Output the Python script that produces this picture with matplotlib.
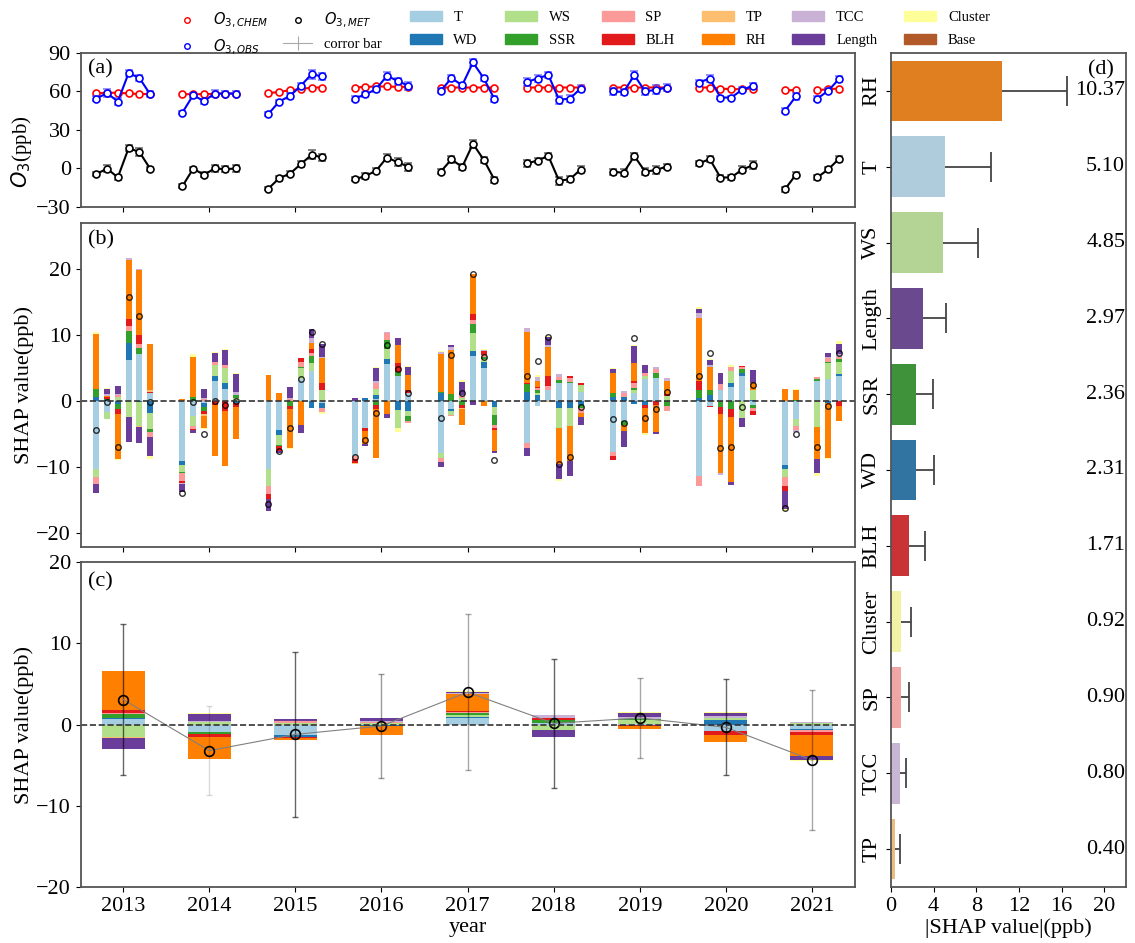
import numpy as np
import matplotlib
matplotlib.use("Agg")
import matplotlib.pyplot as plt
import seaborn as sns
from matplotlib.patches import Patch
from matplotlib.lines import Line2D

plt.rcParams['font.family'] = ['Liberation Serif', 'DejaVu Serif']
plt.rcParams['font.size'] = 16
plt.rcParams['axes.edgecolor'] = '#555555'
plt.rcParams['axes.linewidth'] = 1.3

# ---------------- data ----------------
years = [2013, 2014, 2015, 2016, 2017, 2018, 2019, 2020, 2021]
# months with data in each year (2021 misses one month)
bar_year = [2013]*6 + [2014]*6 + [2015]*6 + [2016]*6 + [2017]*6 + [2018]*6 + [2019]*6 + [2020]*6 + [2021]*5
bar_month = [5, 6, 7, 8, 9, 10]*8 + [5, 6, 8, 9, 10]

o3_chem = [58.5, 59, 59, 58.5, 58, 58,
           57.9, 57.9, 57.9, 58.2, 58.4, 58.4,
           58.7, 59.7, 61, 61.8, 63.1, 63.1,
           63.1, 63.6, 63.9, 63.9, 63.6, 63.6,
           63.1, 63.1, 63.1, 63.1, 63.1, 63.1,
           63.1, 63.1, 63.1, 63.1, 63.1, 63.1,
           63.1, 63.1, 63.1, 63.1, 63.1, 63.1,
           63.1, 63.1, 62.3, 61.8, 61.8, 62.3,
           61, 61, 61, 61.8, 62.3]
o3_obs = [54.5, 58.7, 52.2, 74.3, 70.6, 57.9,
          43.6, 57.1, 52.5, 58.4, 58.4, 58.4,
          42.6, 52.2, 56.6, 64.4, 73.5, 71.7,
          54.5, 57.7, 61.8, 72.2, 68.3, 64.4,
          60.5, 70.4, 64.9, 82.6, 70.4, 54.0,
          67.5, 70.1, 73.0, 53.5, 54.5, 62.3,
          60.0, 59.7, 72.7, 60.0, 61.3, 63.1,
          67.0, 70.1, 55.3, 55.3, 61.3, 64.4,
          44.9, 56.1, 54.5, 60.5, 69.6]
o3_met = [-4.3, -0.15, -6.9, 15.8, 12.95, -0.15,
          -13.85, -0.15, -4.9, 0.0, -0.5, 0.0,
          -15.6, -7.55, -4.0, 3.4, 10.6, 8.7,
          -8.4, -5.9, -1.75, 8.55, 4.9, 1.35,
          -2.5, 7.05, 1.25, 19.25, 6.8, -8.8,
          3.9, 6.2, 9.8, -9.55, -8.4, -0.85,
          -2.65, -3.25, 9.65, -2.5, -1.15, 1.5,
          3.9, 7.4, -7.05, -6.95, -0.9, 2.5,
          -16.1, -4.9, -6.95, -0.75, 7.4]
obs_err = [2, 3, 2.5, 2.5, 2.5, 2.5,
           1.5, 2, 2, 2.5, 2, 2,
           1.5, 1.5, 2.5, 2, 3.5, 3,
           2, 2, 2, 3, 2.5, 3,
           2, 2.5, 2, 2.5, 2, 2.5,
           3, 2.5, 2.5, 3, 2.5, 3,
           2.5, 2.5, 3, 2.5, 3.5, 2.5,
           2, 2.5, 1.5, 1.5, 2, 2.5,
           2, 2.5, 2, 2, 2.5]
met_err = [1.5, 2.5, 2, 2.5, 3, 1.5,
           1.5, 1.5, 2, 2.5, 2.5, 2.5,
           1.5, 2, 2, 2.5, 3.5, 2.5,
           1.5, 2, 2, 3, 3, 3,
           2, 3, 2.5, 3, 2.5, 2.5,
           3, 2, 2, 3, 2.5, 2.5,
           2.5, 2.5, 2.5, 2.5, 3, 2,
           2, 2, 2, 2, 2.5, 3,
           2, 2, 2, 2, 2.5]

features = ['T', 'WD', 'WS', 'SSR', 'SP', 'BLH', 'TP', 'RH', 'TCC', 'Length', 'Cluster', 'Base']

# monthly SHAP values (ppb), one value per bar
shap_T = [-10.3, -1.6, 0, 6.3, 7.2, 1.35,
          -8.95, -2.15, -0.25, 3.15, 1.85, 0,
          -10.3, -4.3, 0, 3.4, 4.55, -0.3,
          -8.3, -4.0, 0.35, 5.7, 3.8, 1.35,
          -7.8, -1.15, 0, 6.95, 5.05, 0,
          -6.3, -0.65, 1.75, 2.75, 2.75, 1.5,
          -7.7, -3.0, 1.35, 3.35, 3.5, 0,
          -11.35, -0.75, 1.75, 2.15, 3.9, -0.5,
          -9.7, -2.65, 3.15, 3.4, 3.8]
shap_WD = [0.75, 0.2, -0.4, 2.5, -0.15, -1.75,
           -0.75, 0, -0.6, 0.75, 0.9, -0.25,
           0, -0.75, 0, 0, -1.0, -0.75,
           0, 0.5, 0.65, 0.75, -1.25, -1.5,
           1.35, -0.35, 0, 0.7, 0.9, -0.9,
           1.5, 1.0, 0, -1.0, -1.0, -0.5,
           0.75, 0.75, -0.4, -0.5, 0, 0,
           0.5, 1.0, 0, 0.7, 0.4, 0.25,
           -0.6, 0, 0, -0.25, 0.4]
shap_WS = [-1.15, -1.05, 0.75, -2.35, -3.6, -2.35,
           -1.0, -1.6, 0, 1.6, 2.25, 0.55,
           -2.5, -1.5, 0, 1.65, 1.35, 1.75,
           0, 0, 0.85, 1.45, -2.75, -0.75,
           -0.75, -0.5, 0.5, 2.75, 0.45, -1.1,
           0, 0.3, 0, -3.0, -2.65, 1.0,
           0, 0, 0.4, 0.5, 0, 0.85,
           0, 0, 0, 1.8, -2.5, 1.5,
           -1.1, -1.1, -3.8, 2.5, 1.85]
shap_SSR = [1.1, 0.25, -0.75, 1.9, 0.95, -0.55,
            -0.2, 0.65, -0.65, 0, 0, 0.4,
            0, -0.25, -0.7, 0.25, 1.05, 0,
            0, 0, -0.6, 1.4, 0.65, -0.75,
            0.1, 1.1, -0.6, 1.4, 0.3, -1.5,
            1.15, 0.4, 0, 0.5, 0.2, -0.5,
            0.5, -0.5, 0.35, 0, 0.75, -0.65,
            1.25, 0.75, -0.85, -1.15, 0.6, -0.5,
            0, 0.25, 0.2, 0.15, 0.35]
shap_SP = [-1.1, 0, 0.25, 0.75, 0.5, -0.75,
           -1.15, -0.4, 0.35, 0.5, 0.5, 0,
           -1.25, 0, 0.35, 0.75, 0.35, -0.6,
           -0.35, 0, 1.0, 1.1, 0, -0.25,
           -0.65, -0.25, 0.35, 0.5, 0.4, -0.5,
           -0.75, 0.3, 0.65, 0.5, 0.55, -0.75,
           -0.6, 0.5, 0.75, 0.5, 0.6, -0.85,
           -1.4, 0, 0.9, 0.6, 0.4, -0.5,
           -1.4, -0.5, 0.4, 0.55, 0.3]
shap_BLH = [0, 0.3, -0.7, 1.1, 1.4, 0.15,
            -0.35, -0.2, -0.35, -0.5, -1.5, -0.6,
            -0.75, -0.75, -0.4, 0.5, 0.6, 1.0,
            -0.7, -0.5, -0.55, 0, 1.35, 0.4,
            0, 0, -0.4, 0.9, 0.6, -0.35,
            0.2, 0.15, 1.45, 0, 0.35, 0.35,
            -0.5, 0, 0.3, -0.5, -0.5, 0.35,
            1.4, -0.1, -1.0, -1.2, 0.1, -0.5,
            -0.75, 0, 0, 0, -0.65]
shap_TP = [0, 0, 0, -0.05, -0.1, 0.25,
           0, 0, -0.3, 0, 0, 0,
           0, 0, 0, 0, 0, 0,
           -0.1, 0, 0, 0, 0, 0,
           0, 0, -0.2, 0, 0, 0,
           0, 0, -0.15, 0, 0, 0,
           0, -0.1, 0, 0, 0, 0,
           0, 0, 0, 0, 0, 0,
           0, 0, 0, 0, 0]
shap_RH = [8.4, 0.15, -6.9, 8.9, 9.9, 6.95,
           0.4, 6.1, -1.85, -7.8, -8.3, -4.85,
           4.0, 1.25, -6.0, -3.5, 0.9, 3.9,
           0, -2.0, -7.4, -1.85, 2.75, 2.25,
           5.7, 6.7, -2.3, 6.05, -0.65, -3.15,
           7.7, 1.0, 4.35, -5.55, -5.4, -0.65,
           3.0, -0.85, 2.7, -3.8, -4.05, 1.85,
           9.55, 3.5, -9.05, -9.85, 0, 1.0,
           1.9, 1.5, -4.95, -8.3, -2.35]
shap_TCC = [0, 0.2, 0.15, 0.25, 0.1, 0,
            -0.1, 0, 0.25, 0, 0, 0.55,
            0, 0, 0.2, 0.1, 0.75, 0.15,
            0, 0, 0.3, 0.15, 0, 0,
            0.35, 0.5, 0.15, 0.05, 0.15, 0,
            0.65, 0.5, 0.35, 0.35, 0, 0,
            0, 0.4, 0, 0, 0.3, 0.55,
            0.7, 0.3, -0.25, 0, 0, 0,
            0, -0.3, 0, 0.2, 0.5]
shap_Length = [-1.25, 0.8, 1.15, -3.8, -2.4, -2.9,
               -1.15, -0.5, 1.25, 1.35, 2.25, 2.6,
               -1.75, -0.25, 1.6, -1.25, 1.4, 1.95,
               0.5, -0.25, 1.9, -0.65, 1.0, 1.25,
               -0.7, 0.25, 2.0, -0.5, 0, -0.35,
               -1.15, 0, 1.25, -2.15, -2.25, -1.2,
               0.6, -2.4, 2.5, 1.15, -0.35, 0,
               0.65, 0.75, 1.6, -0.5, -1.3, 2.0,
               -2.75, 0, -2.1, 0.6, 1.5]
shap_Cluster = [0.35, 0.15, -0.15, 0, 0, -0.35,
                0, 0.4, -0.1, 0.15, 0.25, 0.2,
                0, 0, -0.1, 0, 0, -0.25,
                0, 0, 0.15, 0, -0.65, 0.1,
                0.15, 0, 0.25, 0, 0.15, 0,
                0, 0.4, 0.1, -0.35, 0, 0,
                0.15, 0, 0.25, -0.25, 0, 0,
                0.25, 0.2, 0, 0.25, 0, 0.05,
                -0.25, 0.15, -0.5, -0.15, 0.4]
shap_Base = [0]*53

# yearly mean SHAP values (ppb)
year_T = [0.7, -0.9, -1.28, -0.1, 0.86, 0.25, 0.1, -0.74, -0.53]
year_WD = [0.15, 0, -0.3, -0.08, 0.12, 0, 0, 0.55, -0.12]
year_WS = [-1.56, 0.3, 0.25, 0.15, 0.2, -0.65, 0.45, 0.25, 0.15]
year_SSR = [0.5, -0.2, 0, 0, 0.25, 0.3, 0.15, -0.1, 0]
year_SP = [0.1, 0, 0.2, 0.15, 0.1, 0.08, 0, 0, -0.3]
year_BLH = [0.4, -0.4, -0.1, 0, 0.15, 0.25, -0.2, -0.4, -0.37]
year_TP = [-0.05, -0.05, 0, 0, 0, 0, 0, 0, 0]
year_RH = [4.7, -2.7, -0.15, -1.15, 2.06, 0, -0.3, -0.95, -2.55]
year_TCC = [0.05, 0.1, 0.05, 0.1, 0.2, 0.25, 0.3, 0.28, 0.22]
year_Length = [-1.4, 0.9, 0.25, 0.4, 0.12, -0.82, 0.45, 0.4, -0.5]
year_Cluster = [0, 0.1, -0.05, 0.06, 0.12, 0.08, 0.06, 0.12, -0.08]
year_Base = [0]*9
year_mean = [3.09, -3.2, -1.2, -0.16, 4.0, 0.16, 0.82, -0.33, -4.36]
year_std = [9.3, 5.5, 10.2, 6.45, 9.6, 7.95, 4.9, 5.9, 8.6]

# mean |SHAP| importance
imp_names = ['RH', 'T', 'WS', 'Length', 'SSR', 'WD', 'BLH', 'Cluster', 'SP', 'TCC', 'TP']
imp_vals = [10.37, 5.10, 4.85, 2.97, 2.36, 2.31, 1.71, 0.92, 0.90, 0.80, 0.40]
imp_err = [6.13, 4.25, 3.35, 2.23, 1.6, 1.7, 1.47, 0.93, 0.79, 0.63, 0.47]

# ---------------- setup ----------------
feat_color = dict(zip(features, plt.cm.Paired.colors))
shap_m = dict(zip(features, [shap_T, shap_WD, shap_WS, shap_SSR, shap_SP, shap_BLH, shap_TP,
                             shap_RH, shap_TCC, shap_Length, shap_Cluster, shap_Base]))
shap_y = dict(zip(features, [year_T, year_WD, year_WS, year_SSR, year_SP, year_BLH, year_TP,
                             year_RH, year_TCC, year_Length, year_Cluster, year_Base]))

x_bar = np.array([8*(y - years[0]) + (m - 5) for y, m in zip(bar_year, bar_month)])
x_year = np.array([8*i + 2.5 for i in range(len(years))])
n_slot = 8*len(years)

def on_grid(vals):
    # put values on the full month grid so lines break between years / gaps
    out = np.full(n_slot, np.nan)
    out[x_bar] = vals
    return out

xg = np.arange(n_slot)

fig = plt.figure(figsize=(11.35, 9.43), dpi=100)
ax_a = fig.add_axes([0.0711, 0.7805, 0.6822, 0.1633])
ax_b = fig.add_axes([0.0711, 0.4203, 0.6822, 0.3429])
ax_c = fig.add_axes([0.0711, 0.0594, 0.6822, 0.3443])
ax_d = fig.add_axes([0.785, 0.0594, 0.2068, 0.8844])

# ---------------- (a) ----------------
ax_a.plot(xg, on_grid(o3_chem), color='red', marker='o', mfc='white', ms=5, mew=1.2, lw=1.5)
ax_a.errorbar(xg, on_grid(o3_obs), yerr=on_grid(obs_err), color='blue', marker='o', mfc='white',
              ms=5, mew=1.2, lw=1.5, ecolor=(0.3, 0.3, 1.0, 0.7), elinewidth=1, capsize=3)
ax_a.errorbar(xg, on_grid(o3_met), yerr=on_grid(met_err), color='black', marker='o', mfc='white',
              ms=5, mew=1.2, lw=1.5, ecolor=(0.2, 0.2, 0.2, 0.7), elinewidth=1, capsize=3)
ax_a.set_ylim(-30, 90)
ax_a.set_yticks([-30, 0, 30, 60, 90])
ax_a.set_ylabel(r'$O_3$(ppb)', fontsize=15)
ax_a.yaxis.set_label_coords(-0.06, 0.36)
ax_a.text(0.01, 0.9, '(a)', transform=ax_a.transAxes, fontsize=16, va='center')

# ---------------- (b) ----------------
bpos = np.zeros(len(x_bar))
bneg = np.zeros(len(x_bar))
for f in features:
    v = np.array(shap_m[f], dtype=float)
    p = np.clip(v, 0, None)
    n = np.clip(v, None, 0)
    ax_b.bar(x_bar, p, bottom=bpos, width=0.55, color=feat_color[f], linewidth=0)
    ax_b.bar(x_bar, n, bottom=bneg, width=0.55, color=feat_color[f], linewidth=0)
    bpos += p
    bneg += n
ax_b.plot(x_bar, o3_met, 'o', mfc='none', mec='black', ms=4, mew=1.0, alpha=0.8)
ax_b.axhline(0, color='#333333', ls='--', lw=1.2)
ax_b.set_ylim(-22, 27)
ax_b.set_yticks([-20, -10, 0, 10, 20])
ax_b.set_ylabel('SHAP value(ppb)')
ax_b.yaxis.set_label_coords(-0.06, 0.5)
ax_b.text(0.01, 0.95, '(b)', transform=ax_b.transAxes, fontsize=16, va='center')

# ---------------- (c) ----------------
bpos = np.zeros(len(years))
bneg = np.zeros(len(years))
for f in features:
    v = np.array(shap_y[f], dtype=float)
    p = np.clip(v, 0, None)
    n = np.clip(v, None, 0)
    ax_c.bar(x_year, p, bottom=bpos, width=4, color=feat_color[f], linewidth=0)
    ax_c.bar(x_year, n, bottom=bneg, width=4, color=feat_color[f], linewidth=0)
    bpos += p
    bneg += n
err_alpha = [0.6, 0.15, 0.6, 0.4, 0.35, 0.6, 0.35, 0.6, 0.35]
for xi, m, s, a in zip(x_year, year_mean, year_std, err_alpha):
    ax_c.errorbar(xi, m, yerr=s, fmt='none', ecolor='black', alpha=a, elinewidth=1, capsize=2)
ax_c.plot(x_year, year_mean, color='gray', lw=0.8, marker='o', mfc='none', mec='black',
          ms=7, mew=1.2)
ax_c.axhline(0, color='#333333', ls='--', lw=1.2)
ax_c.set_ylim(-20, 20)
ax_c.set_yticks([-20, -10, 0, 10, 20])
ax_c.set_ylabel('SHAP value(ppb)')
ax_c.yaxis.set_label_coords(-0.06, 0.5)
ax_c.set_xlabel('year', labelpad=2)
ax_c.text(0.01, 0.94, '(c)', transform=ax_c.transAxes, fontsize=16, va='center')

for ax in (ax_a, ax_b, ax_c):
    ax.set_xlim(-1.45, 70.5)
    ax.set_xticks(x_year)
ax_a.set_xticklabels([])
ax_b.set_xticklabels([])
ax_c.set_xticklabels([str(y) for y in years])

# ---------------- (d) ----------------
yd = np.arange(len(imp_names))[::-1]
ax_d.barh(yd, imp_vals, height=0.8,
          color=[sns.desaturate(feat_color[n], 0.75) for n in imp_names])
ends = np.array(imp_vals) + np.array(imp_err)
ax_d.hlines(yd, imp_vals, ends, color='#444444', lw=1.3)
ax_d.plot(ends, yd, ls='none', marker='|', ms=22, mew=1.3, color='#444444')
for yi, v in zip(yd, imp_vals):
    ax_d.text(21.95, yi, f'{v:.2f}', ha='right', va='center', fontsize=16)
ax_d.text(19.7, 10.28, '(d)', ha='center', va='center', fontsize=16)
ax_d.set_xlim(0, 22)
ax_d.set_ylim(-0.5, 10.5)
ax_d.set_xticks([0, 4, 8, 12, 16, 20])
ax_d.set_yticks(yd)
ax_d.set_yticklabels(imp_names, rotation=90, va='center')
ax_d.set_xlabel('|SHAP value|(ppb)', labelpad=2)

# ---------------- legends ----------------
h1 = [Line2D([], [], ls='none', marker='o', mfc='none', mec='red', ms=4, mew=1),
      Line2D([], [], ls='none', marker='o', mfc='none', mec='blue', ms=4, mew=1),
      Line2D([], [], ls='none', marker='o', mfc='none', mec='black', ms=4, mew=1)]
eb = ax_a.errorbar([np.nan], [np.nan], yerr=[1.0], color='darkgray', lw=0.8, elinewidth=0.8)
h1.append(eb)
l1 = [r'$O_{3,CHEM}$', r'$O_{3,OBS}$', r'$O_{3,MET}$', 'corror bar']
fig.legend(h1, l1, ncol=2, loc='upper left', bbox_to_anchor=(0.143, 0.999), frameon=False,
           fontsize=10.5, columnspacing=1.0, handletextpad=0.8, labelspacing=0.5, borderpad=0.2)
h2 = [Patch(color=feat_color[f]) for f in features]
fig.legend(h2, features, ncol=6, loc='upper left', bbox_to_anchor=(0.352, 0.999), frameon=False,
           fontsize=10.5, columnspacing=1.85, handletextpad=0.8, labelspacing=0.65, borderpad=0.2,
           handlelength=2.2)

fig.savefig('out.png', dpi=100)
